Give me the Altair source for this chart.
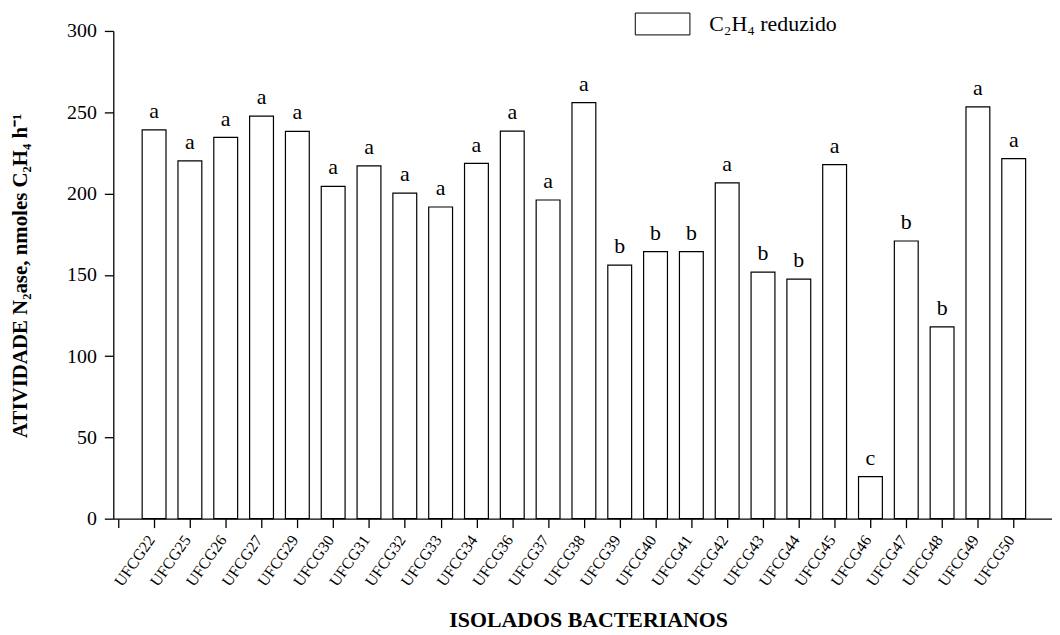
import altair as alt
import pandas as pd

isolados = ["UFCG22", "UFCG25", "UFCG26", "UFCG27", "UFCG29", "UFCG30", "UFCG31",
            "UFCG32", "UFCG33", "UFCG34", "UFCG36", "UFCG37", "UFCG38", "UFCG39",
            "UFCG40", "UFCG41", "UFCG42", "UFCG43", "UFCG44", "UFCG45", "UFCG46",
            "UFCG47", "UFCG48", "UFCG49", "UFCG50"]
atividade = [239.2, 220.1, 234.5, 247.6, 238.2, 204.4, 217.0, 200.3, 191.7, 218.5,
             238.4, 196.0, 255.9, 155.9, 164.2, 164.2, 206.6, 151.6, 147.3, 217.8,
             25.9, 170.8, 118.0, 253.3, 221.5]
letras = ["a", "a", "a", "a", "a", "a", "a", "a", "a", "a", "a", "a", "a", "b",
          "b", "b", "a", "b", "b", "a", "c", "b", "b", "a", "a"]
serie = "C\u2082H\u2084 reduzido"
y_ticks = [0, 50, 100, 150, 200, 250, 300]

df = pd.DataFrame({
    "pos": list(range(1, len(isolados) + 1)),
    "isolado": isolados,
    "valor": atividade,
    "letra": letras,
    "serie": [serie] * len(isolados),
})

label_array = "[" + ",".join(["''"] + [f"'{s}'" for s in isolados]) + "]"
FONT = "Liberation Serif"

x_enc = alt.X(
    "pos:Q",
    scale=alt.Scale(domain=[0, 25.93], nice=False, zero=False),
    axis=alt.Axis(
        values=list(range(0, len(isolados) + 1)),
        tickCount=100,
        labelExpr=f"{label_array}[datum.value]",
        labelAngle=305,
        labelAlign="right",
        labelBaseline="middle",
        labelFontSize=16,
        labelPadding=9,
        labelOffset=-3,
        labelOverlap=False,
        labelBound=False,
        labelFlush=False,
        tickSize=9,
        grid=False,
        title="ISOLADOS BACTERIANOS",
        titleX=478,
        titleY=102,
        titleBaseline="middle",
        titleAlign="center",
        titleFontSize=22,
        titleFontWeight="bold",
    ),
)

y_enc = alt.Y(
    "valor:Q",
    scale=alt.Scale(domain=[0, 300], nice=False),
    axis=alt.Axis(
        values=y_ticks,
        tickSize=9,
        labelFontSize=20,
        labelPadding=8,
        grid=False,
        title="ATIVIDADE N\u2082ase, nmoles C\u2082H\u2084 h\u207b\u00b9",
        titleX=-93,
        titleY=246,
        titleAngle=270,
        titleAlign="center",
        titleBaseline="middle",
        titleFontSize=21,
        titleFontWeight="bold",
    ),
)

bars = alt.Chart(df).mark_bar(size=24, stroke="black", strokeWidth=1.2).encode(
    x=x_enc,
    y=y_enc,
    fill=alt.Fill(
        "serie:N",
        scale=alt.Scale(range=["white"]),
        legend=alt.Legend(
            title=None,
            orient="none",
            legendX=525,
            legendY=-35,
            padding=0,
            symbolType="M-1,-0.4H1V0.4H-1Z",
            symbolSize=3025,
            symbolStrokeColor="black",
            symbolStrokeWidth=1,
            symbolFillColor="white",
            labelFontSize=22,
            labelFont=FONT,
            labelOffset=19,
            labelColor="black",
        ),
    ),
)

text = alt.Chart(df).mark_text(
    baseline="bottom", dy=-7, fontSize=22, font=FONT, color="black"
).encode(x="pos:Q", y="valor:Q", text="letra:N")

chart = (bars + text).properties(
    width=945,
    height=491,
    autosize=alt.AutoSizeParams(type="none"),
    padding={"left": 106, "top": 21, "right": 0, "bottom": 113},
    background="white",
).configure_view(stroke=None).configure_axis(
    labelFont=FONT,
    titleFont=FONT,
    labelColor="black",
    titleColor="black",
    domainColor="black",
    tickColor="black",
    domainWidth=1.3,
    tickWidth=1.3,
).configure_legend(labelFont=FONT)

chart.save("out.html", embed_options={"renderer": "svg", "actions": False})
